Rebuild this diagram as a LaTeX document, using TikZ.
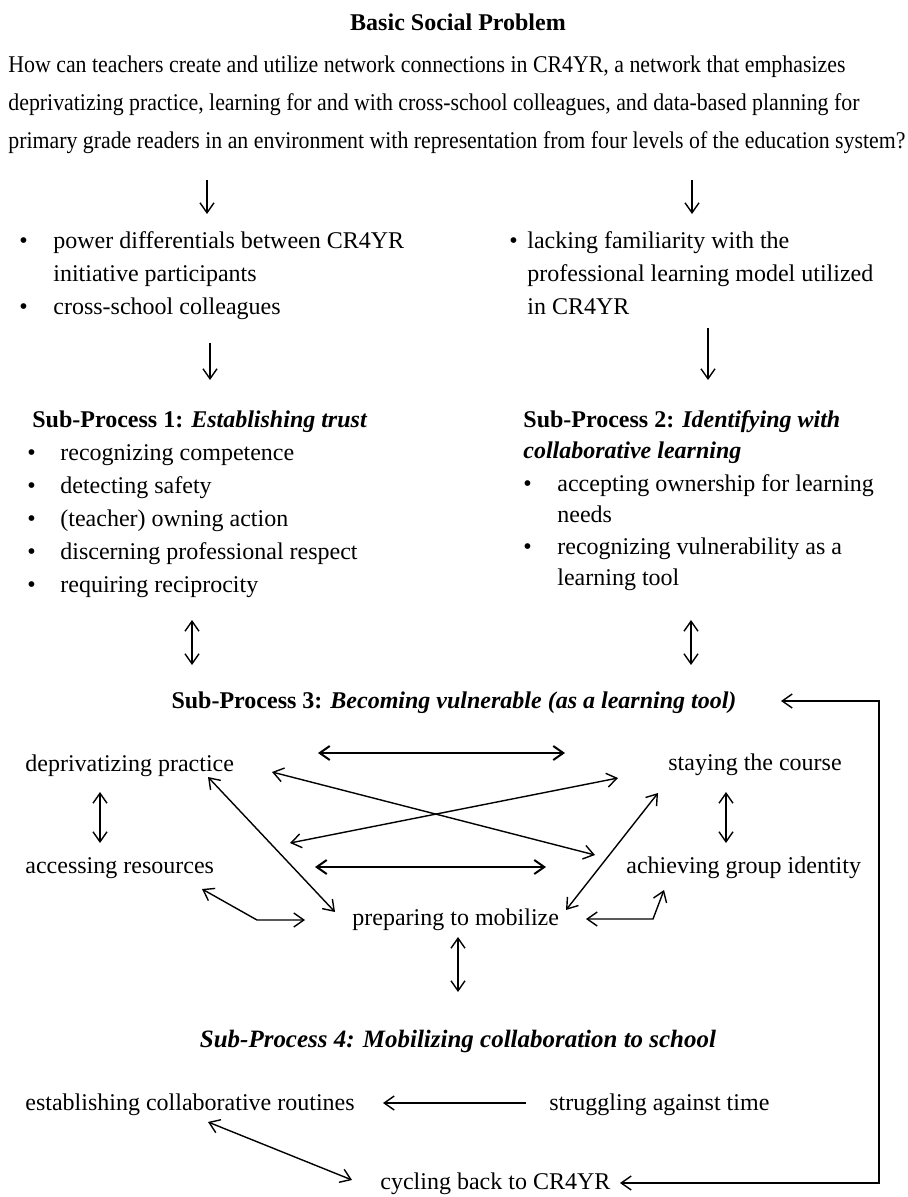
\documentclass[tikz,border=0pt]{standalone}
\usepackage{graphicx}
\usepackage{fontspec}
\setmainfont{Liberation Serif}
\usetikzlibrary{arrows.meta}
\newcommand{\bul}[1]{\makebox[#1][l]{\textbullet}}

\begin{document}
\begin{tikzpicture}[x=0.5pt, y=-0.5pt,
  >={Straight Barb[length=5pt,width=7pt]},
  every node/.append style={inner sep=0pt, font=\fontsize{12}{14.4}\selectfont},
  lbl/.style={anchor=base west},
  head/.style={anchor=base, font=\fontsize{12}{14.4}\selectfont\bfseries},
  link/.style={line width=0.7pt},
  wide/.style={line width=1pt}]
\useasboundingbox (0,0) rectangle (907,1197);

\node[head] (bsp) at (458,31) {Basic Social Problem};
\node[lbl] (q1) at (8,73) {\resizebox{418.5pt}{\height}{How can teachers create and utilize network connections in CR4YR, a network that emphasizes}};
\node[lbl] (q2) at (8,111) {\resizebox{425.5pt}{\height}{deprivatizing practice, learning for and with cross-school colleagues, and data-based planning for}};
\node[lbl] (q3) at (8,149) {\resizebox{448.5pt}{\height}{primary grade readers in an environment with representation from four levels of the education system?}};

% obstacles
\node[lbl] (pw1) at (19,249) {\bul{17pt}power differentials between CR4YR};
\node[lbl] (pw2) at (53,282) {initiative participants};
\node[lbl] (pw3) at (19,315) {\bul{17pt}cross-school colleagues};
\node[lbl] (lf1) at (509,249) {\bul{9pt}lacking familiarity with the};
\node[lbl] (lf2) at (527,282) {professional learning model utilized};
\node[lbl] (lf3) at (527,315) {in CR4YR};

% sub-process 1
\node[lbl] (sp1) at (32,427) {\textbf{Sub-Process 1: \textit{Establishing trust}}};
\foreach \t [count=\i] in {recognizing competence, detecting safety, (teacher) owning action, discerning professional respect, requiring reciprocity}
  \node[lbl] (tr\i) at (27,{427+33*\i}) {\bul{16.5pt}\t};

% sub-process 2
\node[lbl] (sp2) at (523,427) {\textbf{Sub-Process 2: \textit{Identifying with}}};
\node[lbl] (sp2b) at (523,458) {\textbf{\textit{collaborative learning}}};
\node[lbl] (cl1) at (523,491) {\bul{17pt}accepting ownership for learning};
\node[lbl] (cl2) at (557,522) {needs};
\node[lbl] (cl3) at (523,554) {\bul{17pt}recognizing vulnerability as a};
\node[lbl] (cl4) at (557,585) {learning tool};

% sub-process 3
\node[head] (sp3) at (454,708) {Sub-Process 3: \textit{Becoming vulnerable (as a learning tool)}};
\node[lbl] (dep) at (25,771) {deprivatizing practice};
\node[lbl] (stay) at (668,770) {staying the course};
\node[lbl] (acc) at (25,873) {accessing resources};
\node[lbl] (ach) at (626,873) {achieving group identity};
\node[lbl] (prep) at (352,925) {preparing to mobilize};

% sub-process 4
\node[head] (sp4) at (458,1047) {\resizebox{258pt}{!}{\textit{Sub-Process 4: Mobilizing collaboration to school}}};
\node[lbl] (est) at (25,1110) {establishing collaborative routines};
\node[lbl] (strg) at (549,1110) {struggling against time};
\node[lbl] (cyc) at (380,1189) {cycling back to CR4YR};

% ends of the free-standing arrows
\coordinate (d1a) at (207,180); \coordinate (d1b) at (207,214);
\coordinate (d2a) at (692,180); \coordinate (d2b) at (692,214);
\coordinate (d3a) at (210,343); \coordinate (d3b) at (210,380);
\coordinate (d4a) at (708,328); \coordinate (d4b) at (708,380);
\coordinate (u1a) at (192,620); \coordinate (u1b) at (192,665);
\coordinate (u2a) at (691,620); \coordinate (u2b) at (691,665);
\coordinate (h1a) at (318,753); \coordinate (h1b) at (565,753);
\coordinate (h2a) at (315,867); \coordinate (h2b) at (546,867);
\coordinate (x1a) at (272,772); \coordinate (x1b) at (595,855);
\coordinate (x2a) at (290,843); \coordinate (x2b) at (618,778);
\coordinate (g1a) at (208,777); \coordinate (g1b) at (335,912);
\coordinate (g2a) at (566,910); \coordinate (g2b) at (658,793);
\coordinate (v1a) at (100,792); \coordinate (v1b) at (100,843);
\coordinate (v2a) at (726,792); \coordinate (v2b) at (726,843);
\coordinate (v3a) at (458,937); \coordinate (v3b) at (458,992);
\coordinate (e1a) at (208,1122); \coordinate (e1b) at (352,1180);
\coordinate (s1a) at (526,1103); \coordinate (s1b) at (383,1103);
\coordinate (k1a) at (202,889); \coordinate (k1b) at (257,920); \coordinate (k1c) at (305,920);
\coordinate (k2a) at (586,919); \coordinate (k2b) at (653,919); \coordinate (k2c) at (664,890);
\coordinate (r1) at (781,701); \coordinate (r2) at (879,701);
\coordinate (r3) at (879,1183); \coordinate (r4) at (620,1183);

\foreach \s/\e in {d1a/d1b, d2a/d2b, d3a/d3b, d4a/d4b, s1a/s1b}
  \draw[link,->] (\s) -- (\e);
\foreach \s/\e in {u1a/u1b, u2a/u2b, x1a/x1b, x2a/x2b, g1a/g1b, g2a/g2b, v1a/v1b, v2a/v2b, v3a/v3b, e1a/e1b}
  \draw[link,<->] (\s) -- (\e);
\draw[wide,<->] (h1a) -- (h1b);
\draw[wide,<->] (h2a) -- (h2b);
\draw[link,<->] (k1a) -- (k1b) -- (k1c);
\draw[link,<->] (k2a) -- (k2b) -- (k2c);
\draw[link,<->] (r1) -- (r2) -- (r3) -- (r4); % back to sub-process 3
\end{tikzpicture}
\end{document}
